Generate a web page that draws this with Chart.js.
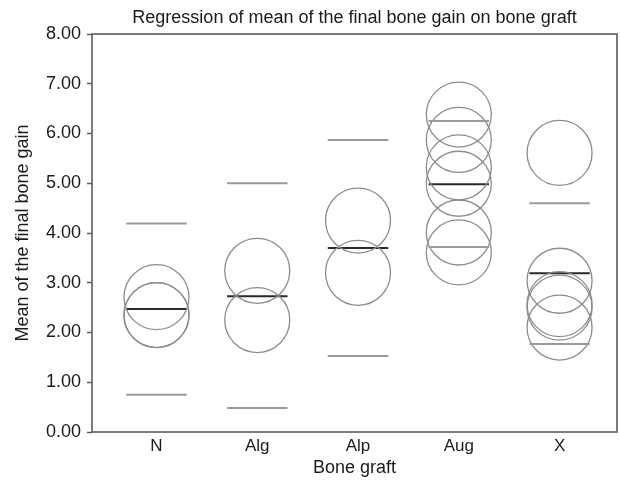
<!DOCTYPE html>
<html>
<head>
<meta charset="utf-8">
<title>Bone gain by bone graft</title>
<script src="https://cdn.jsdelivr.net/npm/chart.js@4/dist/chart.umd.min.js"></script>
<style>
    html, body { margin: 0; padding: 0; background: #fff; }
    #wrap { width: 620px; height: 485px; }
</style>
</head>
<body>
<div id="wrap"><canvas id="gainChart" width="620" height="485"></canvas></div>
<script>
// Bone graft groups along the x axis
const grafts = ["N", "Alg", "Alp", "Aug", "X"];

// Final bone gain of each case, per graft
const gainN = [2.71, 2.35, 2.35];
const gainAlg = [3.24, 2.25];
const gainAlp = [4.25, 3.20];
const gainAug = [6.38, 5.87, 5.32, 4.99, 4.01, 3.61];
const gainX = [5.61, 3.04, 2.57, 2.50, 2.10];

// Fitted mean and its upper / lower limits, per graft
const meanGain = [2.47, 2.73, 3.70, 4.98, 3.19];
const upperLimit = [4.19, 5.00, 5.87, 6.25, 4.60];
const lowerLimit = [0.75, 0.48, 1.53, 3.72, 1.77];

// Y axis tick values
const yTicks = [0, 1, 2, 3, 4, 5, 6, 7, 8];

const FONT = "'Liberation Sans', Arial, Helvetica, sans-serif";
const TEXT = "#1a1a1a";

// Short horizontal segment for each group, broken with null gaps
function segments(values, half) {
    const pts = [];
    values.forEach((v, i) => {
        pts.push({ x: i + 1 - half, y: v });
        pts.push({ x: i + 1 + half, y: v });
        pts.push({ x: i + 1 + half, y: null });
    });
    return pts;
}

// One point per case, stacked over its group
function casePoints(groups) {
    const pts = [];
    groups.forEach((vals, i) => {
        vals.forEach(v => pts.push({ x: i + 1, y: v }));
    });
    return pts;
}

// Box around the plot area and the title over it
const framePlugin = {
    id: "frame",
    afterDraw(chart) {
        const { ctx, chartArea: a } = chart;
        ctx.save();
        ctx.strokeStyle = "#5c5c5c";
        ctx.lineWidth = 1.6;
        ctx.strokeRect(a.left, a.top, a.right - a.left, a.bottom - a.top);
        ctx.fillStyle = TEXT;
        ctx.font = "18px " + FONT;
        ctx.textAlign = "center";
        ctx.textBaseline = "middle";
        ctx.fillText("Regression of mean of the final bone gain on bone graft", (a.left + a.right) / 2, 18);
        ctx.restore();
    }
};

function initializeChart() {
    const ctx = document.getElementById("gainChart");

    new Chart(ctx, {
        type: "scatter",
        data: {
            datasets: [
                {
                    type: "line",
                    label: "Upper limit",
                    data: segments(upperLimit, 0.3),
                    borderColor: "#9a9a9a",
                    borderWidth: 2,
                    pointRadius: 0,
                    spanGaps: false
                },
                {
                    type: "line",
                    label: "Lower limit",
                    data: segments(lowerLimit, 0.3),
                    borderColor: "#9a9a9a",
                    borderWidth: 2,
                    pointRadius: 0,
                    spanGaps: false
                },
                {
                    type: "scatter",
                    label: "Cases",
                    data: casePoints([gainN, gainAlg, gainAlp, gainAug, gainX]),
                    pointStyle: "circle",
                    pointRadius: 32.5,
                    pointHoverRadius: 32.5,
                    borderColor: "#8c8c8c",
                    borderWidth: 1.3,
                    backgroundColor: "rgba(0, 0, 0, 0)",
                    clip: false
                },
                {
                    type: "line",
                    label: "Mean",
                    data: segments(meanGain, 0.3),
                    borderColor: "#2a2a2a",
                    borderWidth: 2,
                    pointRadius: 0,
                    spanGaps: false
                }
            ]
        },
        options: {
            responsive: false,
            animation: false,
            devicePixelRatio: 1,
            layout: {
                autoPadding: false,
                padding: { top: 34, right: 3, left: 0, bottom: 0 }
            },
            plugins: {
                legend: { display: false },
                tooltip: { enabled: false }
            },
            scales: {
                x: {
                    type: "linear",
                    min: 0.36,
                    max: 5.57,
                    afterFit(scale) { scale.height = 53; },
                    afterBuildTicks(scale) {
                        scale.ticks = grafts.map((g, i) => ({ value: i + 1 }));
                    },
                    ticks: {
                        color: TEXT,
                        padding: 4,
                        font: { family: FONT, size: 17 },
                        callback: (v) => grafts[v - 1]
                    },
                    grid: { display: false, drawTicks: false },
                    border: { display: false },
                    title: {
                        display: true,
                        text: "Bone graft",
                        color: TEXT,
                        font: { family: FONT, size: 18 },
                        padding: { top: 0, bottom: 6 }
                    }
                },
                y: {
                    min: 0,
                    max: 8,
                    afterFit(scale) { scale.width = 92; },
                    afterBuildTicks(scale) {
                        scale.ticks = yTicks.map(v => ({ value: v }));
                    },
                    ticks: {
                        color: TEXT,
                        padding: 6,
                        font: { family: FONT, size: 18 },
                        callback: (v) => v.toFixed(2)
                    },
                    grid: {
                        drawOnChartArea: false,
                        drawTicks: true,
                        tickLength: 5,
                        tickWidth: 1.5,
                        tickColor: "#5c5c5c"
                    },
                    border: { display: false },
                    title: {
                        display: true,
                        text: "Mean of the final bone gain",
                        color: TEXT,
                        font: { family: FONT, size: 18 },
                        padding: { top: 12, bottom: 0 }
                    }
                }
            }
        },
        plugins: [framePlugin]
    });
}

document.addEventListener("DOMContentLoaded", initializeChart);
</script>
</body>
</html>
